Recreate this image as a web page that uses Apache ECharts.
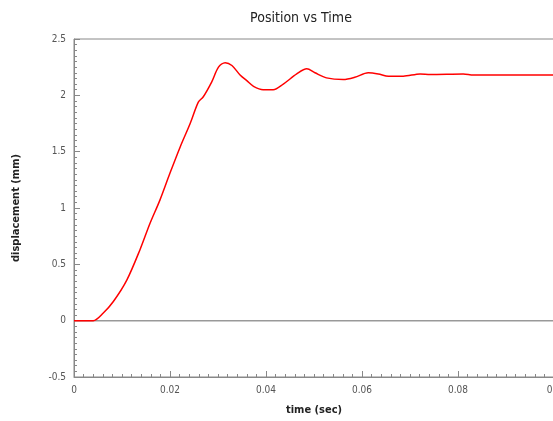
<!DOCTYPE html>
<html>
<head>
<meta charset="utf-8">
<script src="https://cdn.jsdelivr.net/npm/echarts@6/dist/echarts.min.js"></script>
<style>
  html, body { margin: 0; padding: 0; background: #fff; }
  #chart { width: 553px; height: 421px; }
</style>
</head>
<body>
<div id="chart"></div>
<script>
// 时间 (s)
const timeSec = [0, 0.004, 0.0061, 0.0082, 0.011, 0.01375, 0.0158, 0.0179, 0.02, 0.0221,
  0.0242, 0.0259, 0.0269, 0.0287, 0.0301, 0.0315, 0.0329, 0.0346, 0.036, 0.0374,
  0.0394, 0.0415, 0.0436, 0.0464, 0.0485, 0.0502, 0.0526, 0.0561, 0.0585, 0.0613,
  0.0634, 0.0655, 0.0686, 0.0721, 0.0742, 0.0811, 0.0832, 0.1]
// 位移 (mm)
const displacement = [0, 0, 0.068, 0.17, 0.36, 0.63, 0.86, 1.07, 1.31, 1.54,
  1.75, 1.94, 1.985, 2.12, 2.25, 2.29, 2.265, 2.18, 2.13, 2.08,
  2.05, 2.05, 2.10, 2.19, 2.235, 2.20, 2.155, 2.14, 2.16, 2.20,
  2.19, 2.17, 2.17, 2.19, 2.185, 2.19, 2.18, 2.18]
// 零线
const zeroLine = [[0, 0], [0.1, 0]]

const chart = echarts.init(document.getElementById('chart'))
const font = '"DejaVu Sans Condensed", "Liberation Sans Narrow", sans-serif'

const option = {
  animation: false,
  title: {
    text: 'Position vs Time',
    left: 296,
    top: 6,
    textAlign: 'center',
    textStyle: { fontFamily: font, fontSize: 14, fontWeight: 'normal', color: '#222' }
  },
  grid: {
    left: 74, top: 39, width: 480, height: 338,
    outerBoundsMode: 'none',
    containLabel: false,
    show: true, borderColor: '#888', borderWidth: 1
  },
  xAxis: {
    type: 'value',
    min: 0, max: 0.1, interval: 0.02,
    name: 'time (sec)',
    nameLocation: 'middle',
    nameGap: 28,
    nameTextStyle: { fontFamily: font, fontSize: 11, fontWeight: 'bold', color: '#222' },
    axisLine: { onZero: false, lineStyle: { color: '#888' } },
    axisTick: { inside: true, length: 6, lineStyle: { color: '#888' } },
    minorTick: { show: true, splitNumber: 10, length: 3, lineStyle: { color: '#888' } },
    splitLine: { show: false },
    axisLabel: { fontFamily: font, fontSize: 10, color: '#555', margin: 8 }
  },
  yAxis: {
    type: 'value',
    min: -0.5, max: 2.5, interval: 0.5,
    name: 'displacement (mm)',
    nameLocation: 'middle',
    nameGap: 52,
    nameTextStyle: { fontFamily: font, fontSize: 11, fontWeight: 'bold', color: '#222' },
    axisLine: { show: true, onZero: false, lineStyle: { color: '#888' } },
    axisTick: { show: true, inside: true, length: 6, lineStyle: { color: '#888' } },
    minorTick: { show: true, splitNumber: 10, length: 3, lineStyle: { color: '#888' } },
    splitLine: { show: false },
    axisLabel: { fontFamily: font, fontSize: 10, color: '#555', margin: 8 }
  },
  series: [
    {
      type: 'line',
      data: zeroLine,
      symbol: 'none',
      silent: true,
      lineStyle: { color: '#999', width: 1.5 },
      z: 1
    },
    {
      type: 'line',
      data: timeSec.map((t, i) => [t, displacement[i]]),
      smooth: 0.3,
      symbol: 'none',
      lineStyle: { color: '#ff0000', width: 1.5 },
      z: 3
    }
  ]
}

chart.setOption(option)
</script>
</body>
</html>
